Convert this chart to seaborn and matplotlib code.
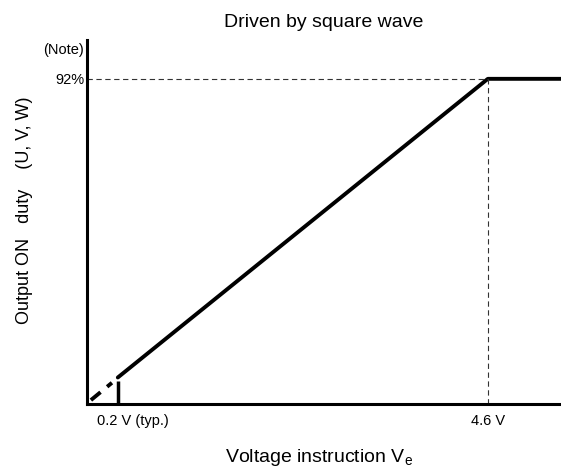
import matplotlib
matplotlib.use("Agg")
import matplotlib.pyplot as plt
import matplotlib.transforms as mtransforms
import seaborn as sns
import numpy as np
import pandas as pd

# data (V, %)
volt_main = [0.2, 4.6, 5.6]
duty_main = [7.5, 92, 92]
volt_dash = [-0.12, 0.13]
duty_dash = [1.1, 6.0]
v_typ = 0.2
v_sat = 4.6
duty_max = 92
x_ticks = [0.2, 4.6]
x_tick_labels = ['0.2 V (typ.)', '4.6 V']
y_ticks = [92, 100.5]
y_tick_labels = ['92%', '(Note)']

sns.set_style("white")
plt.rcParams['font.family'] = ['Liberation Sans', 'DejaVu Sans']
plt.rcParams['text.color'] = 'black'
plt.rcParams['axes.labelcolor'] = 'black'
plt.rcParams['xtick.color'] = 'black'
plt.rcParams['ytick.color'] = 'black'

fig = plt.figure(figsize=(5.61, 4.74), dpi=100)
ax = fig.add_axes([0.155, 0.1477, 0.845, 0.768])

df = pd.DataFrame({'v': volt_main, 'd': duty_main})
sns.lineplot(data=df, x='v', y='d', ax=ax, color='black', linewidth=2.8, sort=False)
ax.plot(volt_dash, duty_dash, color='black', linewidth=2.8, linestyle=(0, (3.2, 2.2)),
        dash_capstyle='butt')
# 0.2 V marker
ax.plot([v_typ, v_typ], [0, 6.6], color='black', linewidth=2.5, solid_capstyle='butt')
# guide lines
ax.plot([-0.17, v_sat], [duty_max, duty_max], color='#333333', linewidth=0.8,
        linestyle=(0, (4.8, 3.2)))
ax.plot([v_sat, v_sat], [0, duty_max], color='#333333', linewidth=0.8,
        linestyle=(0, (4.8, 3.2)))

ax.set_xlim(-0.167, 5.47)
ax.set_ylim(0, 103)
ax.set_xticks(x_ticks)
ax.set_xticklabels(x_tick_labels, fontsize=10.5)
ax.set_yticks(y_ticks)
ax.set_yticklabels(y_tick_labels, fontsize=10.5)
ax.tick_params(axis='x', length=0, pad=7)
ax.tick_params(axis='y', length=0, pad=2)

# "0.2 V (typ.)" sits a little right of its tick
lab = ax.get_xticklabels()[0]
lab.set_horizontalalignment('left')
lab.set_transform(lab.get_transform() +
                  mtransforms.ScaledTranslation(-0.21, 0, fig.dpi_scale_trans))

for s in ['top', 'right']:
    ax.spines[s].set_visible(False)
for s in ['left', 'bottom']:
    ax.spines[s].set_color('black')
    ax.spines[s].set_linewidth(2.2)

ax.set_title('Driven by square wave', fontsize=14, pad=9)
ax.set_xlabel('Voltage instruction V$_\\mathregular{e}$', fontsize=14)
ax.set_ylabel('Output ON   duty    (U, V, W)', fontsize=13)
ax.xaxis.set_label_coords(0.49, -0.118)
ax.yaxis.set_label_coords(-0.114, 0.533)

fig.savefig('out.png', dpi=100)
